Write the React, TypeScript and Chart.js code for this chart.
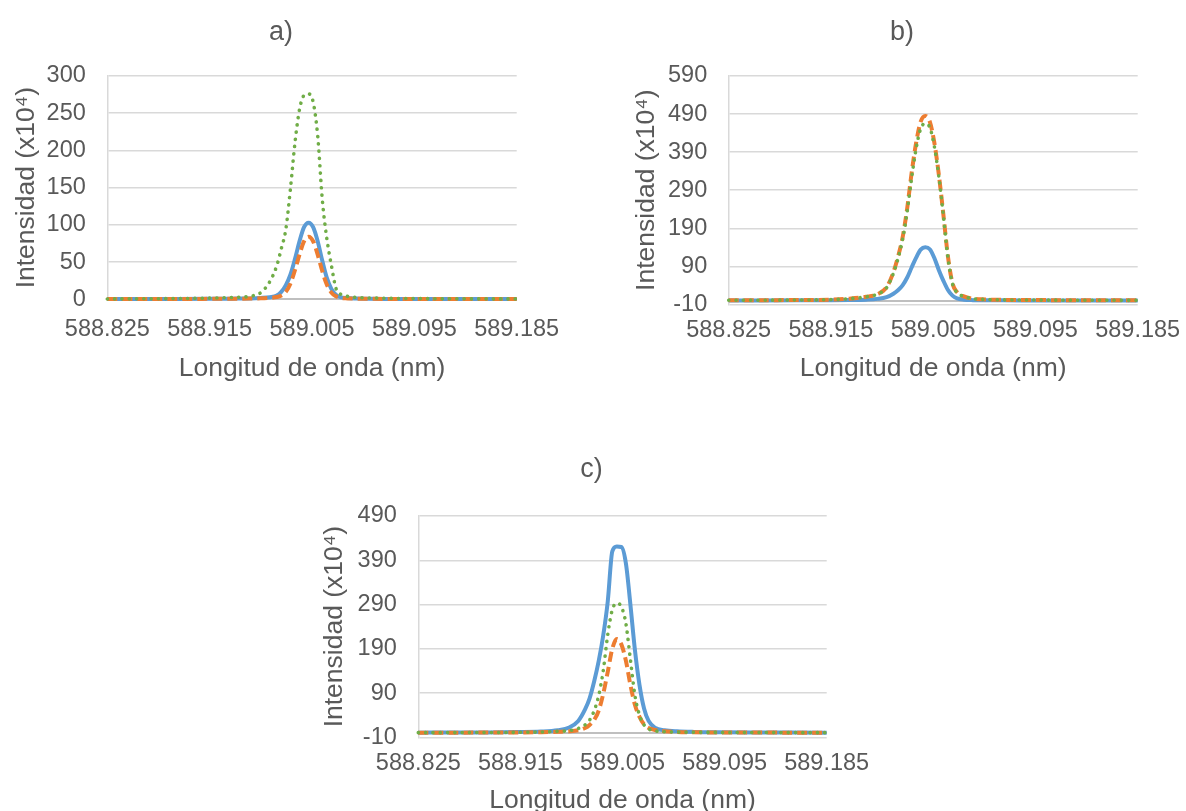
import React, { useEffect, useRef } from "react";
import { Chart, registerables } from "chart.js";

Chart.register(...registerables);

// ---------- data ----------
const xTickValues = [588.825, 588.915, 589.005, 589.095, 589.185];

const yTicksA = [0, 50, 100, 150, 200, 250, 300];
const yTicksB = [-10, 90, 190, 290, 390, 490, 590];
const yTicksC = [-10, 90, 190, 290, 390, 490];

const wavelengthA = [588.825, 588.855, 588.885, 588.915, 588.935, 588.95, 588.96, 588.968, 588.974, 588.978, 588.982, 588.986, 588.99, 588.994, 588.998, 589.002, 589.006, 589.01, 589.014, 589.018, 589.022, 589.026, 589.03, 589.036, 589.044, 589.055, 589.07, 589.095, 589.125, 589.155, 589.185];
const blueA = [0.3, 0.4, 0.5, 0.7, 0.9, 1.2, 1.8, 2.8, 5, 10, 19, 33, 54, 78, 97, 103, 97, 78, 52, 29, 14, 6, 3, 1.6, 1.0, 0.7, 0.5, 0.4, 0.3, 0.3, 0.3];
const orangeA = [0.3, 0.4, 0.5, 0.6, 0.8, 1.0, 1.3, 2.0, 3, 5, 10, 21, 39, 60, 78, 84, 78, 60, 38, 20, 9, 4, 2, 1.2, 0.9, 0.7, 0.5, 0.4, 0.3, 0.3, 0.3];
const greenA = [0.5, 0.7, 1.0, 1.6, 2.5, 4, 9, 24, 45, 68, 94, 148, 210, 255, 274, 276, 265, 220, 135, 82, 46, 15, 7, 4, 2.5, 1.8, 1.3, 1.0, 0.7, 0.6, 0.5];

const wavelengthB = [588.825, 588.855, 588.885, 588.915, 588.931, 588.946, 588.956, 588.964, 588.97, 588.974, 588.978, 588.982, 588.986, 588.99, 588.994, 588.998, 589.002, 589.006, 589.01, 589.014, 589.018, 589.022, 589.026, 589.032, 589.04, 589.051, 589.066, 589.091, 589.121, 589.151, 589.185];
const blueB = [0.4, 0.5, 0.7, 1, 1.5, 2.5, 4.5, 9, 18, 27, 40, 60, 87, 113, 134, 140, 135, 112, 80, 52, 28, 13, 6, 2.5, 1.2, 0.8, 0.6, 0.5, 0.4, 0.4, 0.4];
const orangeB = [0.8, 1, 1.5, 2.5, 5, 10, 17, 35, 75, 115, 165, 240, 335, 415, 470, 485, 470, 415, 330, 225, 115, 45, 22, 11, 5, 3, 2, 1.5, 1, 0.8, 0.6];
const greenB = [0.8, 1, 1.5, 2.5, 5, 10, 17, 34, 72, 110, 160, 232, 322, 400, 452, 465, 455, 405, 325, 222, 112, 44, 21, 11, 5, 3, 2, 1.5, 1, 0.8, 0.6];

const wavelengthC = [588.825, 588.855, 588.885, 588.913, 588.933, 588.948, 588.958, 588.966, 588.972, 588.976, 588.98, 588.984, 588.988, 588.992, 588.996, 589.0, 589.004, 589.008, 589.012, 589.016, 589.02, 589.024, 589.028, 589.034, 589.042, 589.053, 589.068, 589.093, 589.123, 589.153, 589.185];
const blueC = [0.5, 0.7, 1, 1.8, 3, 6, 12, 27, 53, 78, 116, 162, 220, 297, 410, 421, 420, 383, 289, 186, 108, 55, 27, 11, 6, 3.5, 2.2, 1.5, 1, 0.7, 0.5];
const orangeC = [0.4, 0.5, 0.7, 1, 1.5, 2.5, 3.5, 6, 11, 18, 29, 50, 88, 138, 190, 212, 200, 163, 108, 63, 36, 19, 11, 6.5, 3.5, 2, 1.3, 1, 0.7, 0.5, 0.4];
const greenC = [0.5, 0.6, 0.8, 1.2, 2, 3.5, 5, 10, 18, 29, 50, 84, 140, 222, 278, 293, 285, 247, 165, 84, 40, 18, 9, 4.5, 2.5, 1.8, 1.3, 1, 0.8, 0.6, 0.5];

// ---------- styling ----------
const FONT = '"Liberation Sans", Arial, Helvetica, sans-serif';
const TEXT = "#595959";
const GRID = "#D9D9D9";
const AXIS = "#BFBFBF";
const BLUE = "#5B9BD5";
const ORANGE = "#ED7D31";
const GREEN = "#70AD47";

type Panel = {
  title: string;
  wl: number[];
  blue: number[];
  orange: number[];
  green: number[];
  yTicks: number[];
  left: number;
  top: number;
  width: number;
  height: number;
  padL: number;
  padR: number;
  yAxisW: number;
  xAxisH: number;
  titlePadTop: number;
  titlePadBottom: number;
  yTitlePad: number;
  xTitlePadBottom: number;
  xTickPad: number;
};

const panels: Panel[] = [
  {
    title: "a)", wl: wavelengthA, blue: blueA, orange: orangeA, green: greenA, yTicks: yTicksA,
    left: 0, top: 0, width: 570, height: 390,
    padL: 45.3, padR: 53.3, yAxisW: 62, xAxisH: 90.7,
    titlePadTop: 16.5, titlePadBottom: 27.1,
    yTitlePad: -32, xTitlePadBottom: 8.5, xTickPad: 8,
  },
  {
    title: "b)", wl: wavelengthB, blue: blueB, orange: orangeB, green: greenB, yTicks: yTicksB,
    left: 620, top: 0, width: 566, height: 390,
    padL: 46.3, padR: 48.3, yAxisW: 62.4, xAxisH: 85.6,
    titlePadTop: 16.5, titlePadBottom: 27.1,
    yTitlePad: -33, xTitlePadBottom: 8.5, xTickPad: 4.5,
  },
  {
    title: "c)", wl: wavelengthC, blue: blueC, orange: orangeC, green: greenC, yTicks: yTicksC,
    left: 308, top: 436, width: 570, height: 375,
    padL: 48.3, padR: 51.3, yAxisW: 62, xAxisH: 73.7,
    titlePadTop: 17, titlePadBottom: 30.6,
    yTitlePad: -35, xTitlePadBottom: -2.5, xTickPad: 4.3,
  },
];

function ChartPanel({ p }: { p: Panel }) {
  const ref = useRef<HTMLCanvasElement | null>(null);

  useEffect(() => {
    if (!ref.current) return;
    const pts = (v: number[]) => p.wl.map((x, i) => ({ x, y: v[i] }));
    const yMin = p.yTicks[0];
    const yMax = p.yTicks[p.yTicks.length - 1];
    const yStep = p.yTicks[1] - p.yTicks[0];
    const xMin = xTickValues[0];
    const xMax = xTickValues[xTickValues.length - 1];
    const xStep = xTickValues[1] - xTickValues[0];
    const hasZero = p.yTicks.includes(0);

    const chart = new Chart(ref.current, {
      type: "line",
      data: {
        datasets: [
          {
            label: "Serie 1",
            data: pts(p.blue),
            borderColor: BLUE,
            backgroundColor: BLUE,
            borderWidth: 4,
            pointRadius: 0,
            cubicInterpolationMode: "monotone",
            fill: false,
            order: 3,
            clip: 6,
          },
          {
            label: "Serie 2",
            data: pts(p.orange),
            borderColor: ORANGE,
            backgroundColor: ORANGE,
            borderWidth: 4,
            borderDash: [10, 5],
            borderCapStyle: "butt",
            pointRadius: 0,
            cubicInterpolationMode: "monotone",
            fill: false,
            order: 2,
            clip: 6,
          },
          {
            label: "Serie 3",
            data: pts(p.green),
            borderColor: GREEN,
            backgroundColor: GREEN,
            borderWidth: 3.6,
            borderDash: [0.1, 7.2],
            borderCapStyle: "round",
            pointRadius: 0,
            cubicInterpolationMode: "monotone",
            fill: false,
            order: 1,
            clip: 6,
          },
        ],
      },
      options: {
        responsive: false,
        animation: false,
        devicePixelRatio: 1,
        layout: { padding: { left: p.padL, right: p.padR, top: 0, bottom: 0 } },
        plugins: {
          legend: { display: false },
          tooltip: { enabled: false },
          title: {
            display: true,
            text: p.title,
            color: TEXT,
            font: { family: FONT, size: 27, weight: "normal", lineHeight: 1.2 },
            padding: { top: p.titlePadTop, bottom: p.titlePadBottom },
          },
        },
        scales: {
          x: {
            type: "linear",
            min: xMin,
            max: xMax,
            grid: { display: false },
            border: { display: false },
            ticks: {
              stepSize: xStep,
              autoSkip: false,
              maxRotation: 0,
              minRotation: 0,
              padding: p.xTickPad,
              color: TEXT,
              font: { family: FONT, size: 23.5 },
              callback: (v: any) => Number(v).toFixed(3),
            },
            title: {
              display: true,
              text: "Longitud de onda (nm)",
              color: TEXT,
              font: { family: FONT, size: 26.5, lineHeight: 1 },
              padding: { top: 0, bottom: p.xTitlePadBottom },
            },
            afterFit: (s: any) => {
              s.height = p.xAxisH;
            },
          },
          y: {
            type: "linear",
            min: yMin,
            max: yMax,
            grid: {
              drawTicks: false,
              color: (c: any) => (c.tick && c.tick.value === 0 ? AXIS : GRID),
              lineWidth: (c: any) => (c.tick && c.tick.value === 0 ? 2 : 1.5),
            },
            border: { display: true, color: GRID, width: 1.5 },
            ticks: {
              stepSize: yStep,
              autoSkip: false,
              padding: 21.5,
              color: TEXT,
              font: { family: FONT, size: 23.5 },
              callback: (v: any) => (Number(v) === 0 && !hasZero ? "" : String(v)),
            },
            afterBuildTicks: (s: any) => {
              const vals = [...p.yTicks];
              if (!hasZero) vals.push(0);
              vals.sort((a, b) => a - b);
              s.ticks = vals.map((v) => ({ value: v }));
            },
            title: {
              display: true,
              text: "Intensidad (x10⁴)",
              color: TEXT,
              font: { family: FONT, size: 26.5, lineHeight: 1 },
              padding: { top: p.yTitlePad, bottom: 0 },
            },
            afterFit: (s: any) => {
              s.width = p.yAxisW;
            },
          },
        },
      },
    } as any);

    return () => chart.destroy();
  }, [p]);

  return (
    <canvas
      ref={ref}
      width={p.width}
      height={p.height}
      style={{
        position: "absolute",
        left: p.left,
        top: p.top,
        width: p.width,
        height: p.height,
      }}
    />
  );
}

export default function App() {
  return (
    <div
      style={{
        position: "absolute",
        left: 0,
        top: 0,
        width: 1186,
        height: 811,
        background: "#ffffff",
        overflow: "hidden",
      }}
    >
      {panels.map((p) => (
        <ChartPanel key={p.title} p={p} />
      ))}
    </div>
  );
}
